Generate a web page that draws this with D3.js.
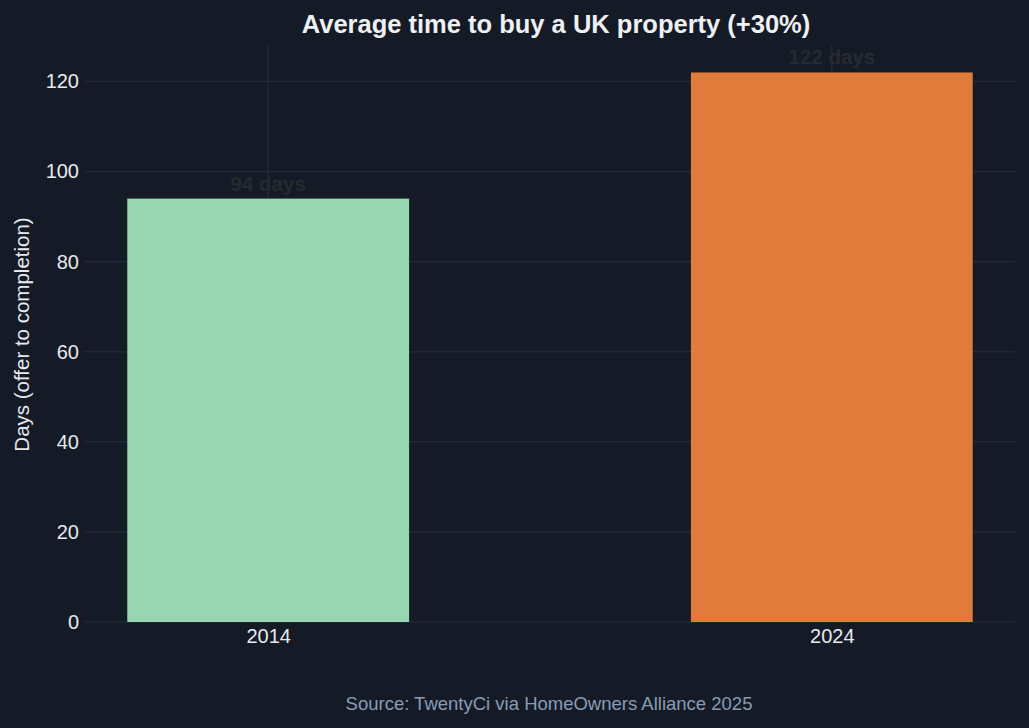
<!DOCTYPE html>
<html>
<head>
<meta charset="utf-8">
<script src="https://cdn.jsdelivr.net/npm/d3@7"></script>
<style>
  html, body { margin: 0; padding: 0; background: #151b26; }
  text { font-family: "Liberation Sans", Arial, sans-serif; }
</style>
</head>
<body>
<svg id="chart"></svg>
<script>
const years = ["2014", "2024"];
const days = [94, 122];
const barColors = ["#97d6b1", "#e07b3b"];
const yTicks = [0, 20, 40, 60, 80, 100, 120];

const width = 1029, height = 728;
const margin = {top: 45, right: 14, bottom: 106, left: 85};

const svg = d3.select("#chart")
    .attr("width", width)
    .attr("height", height);

svg.append("rect").attr("width", width).attr("height", height).attr("fill", "#151b26");

const x = d3.scaleLinear()
    .domain([-0.325, years.length - 1 + 0.325])
    .range([margin.left, width - margin.right]);

const y = d3.scaleLinear()
    .domain([0, d3.max(days) * 1.05])
    .range([height - margin.bottom, margin.top]);

const barW = x(0.5) - x(0);

// grid
svg.append("g")
    .selectAll("line.h")
    .data(yTicks)
    .enter().append("line")
    .attr("x1", x.range()[0]).attr("x2", x.range()[1])
    .attr("y1", d => y(d)).attr("y2", d => y(d))
    .attr("stroke", "#1f2a38").attr("stroke-width", 1.5);

svg.append("g")
    .selectAll("line.v")
    .data(years)
    .enter().append("line")
    .attr("x1", (d, i) => x(i)).attr("x2", (d, i) => x(i))
    .attr("y1", y.range()[1]).attr("y2", y.range()[0])
    .attr("stroke", "#1f2a38").attr("stroke-width", 1.5);

// bars
svg.append("g")
    .selectAll("rect")
    .data(days)
    .enter().append("rect")
    .attr("x", (d, i) => x(i) - barW / 2)
    .attr("width", barW)
    .attr("y", d => y(d))
    .attr("height", d => y(0) - y(d))
    .attr("fill", (d, i) => barColors[i]);

// value labels
svg.append("g")
    .selectAll("text")
    .data(days)
    .enter().append("text")
    .attr("x", (d, i) => x(i))
    .attr("y", d => y(d) - 8)
    .attr("text-anchor", "middle")
    .attr("font-size", 20.5)
    .attr("font-weight", "bold")
    .attr("fill", "#262a2f")
    .text(d => d + " days");

// y axis
const yAxis = svg.append("g")
    .attr("transform", `translate(${margin.left},0)`)
    .call(d3.axisLeft(y).tickValues(yTicks).tickSize(0).tickPadding(6));
yAxis.select(".domain").remove();
yAxis.selectAll("text").attr("font-size", 20).attr("fill", "#e6e9ef")
    .style("font-family", "'Liberation Sans', Arial, sans-serif");

// x axis
const xAxis = svg.append("g")
    .attr("transform", `translate(0,${y(0)})`)
    .call(d3.axisBottom(x).tickValues(years.map((d, i) => i))
        .tickFormat(i => years[i]).tickSize(0).tickPadding(7));
xAxis.select(".domain").remove();
xAxis.selectAll("text").attr("font-size", 20).attr("fill", "#e6e9ef")
    .style("font-family", "'Liberation Sans', Arial, sans-serif");

// titles
svg.append("text")
    .attr("x", 556)
    .attr("y", 33)
    .attr("text-anchor", "middle")
    .attr("font-size", 25.5)
    .attr("font-weight", "bold")
    .attr("fill", "#eef0f4")
    .text("Average time to buy a UK property (+30%)");

svg.append("text")
    .attr("transform", `translate(29,${(margin.top + height - margin.bottom) / 2 + 1}) rotate(-90)`)
    .attr("text-anchor", "middle")
    .attr("font-size", 20.5)
    .attr("fill", "#e6e9ef")
    .text("Days (offer to completion)");

svg.append("text")
    .attr("x", 549)
    .attr("y", 710)
    .attr("text-anchor", "middle")
    .attr("font-size", 18.5)
    .attr("fill", "#8a9bb5")
    .text("Source: TwentyCi via HomeOwners Alliance 2025");
</script>
</body>
</html>
